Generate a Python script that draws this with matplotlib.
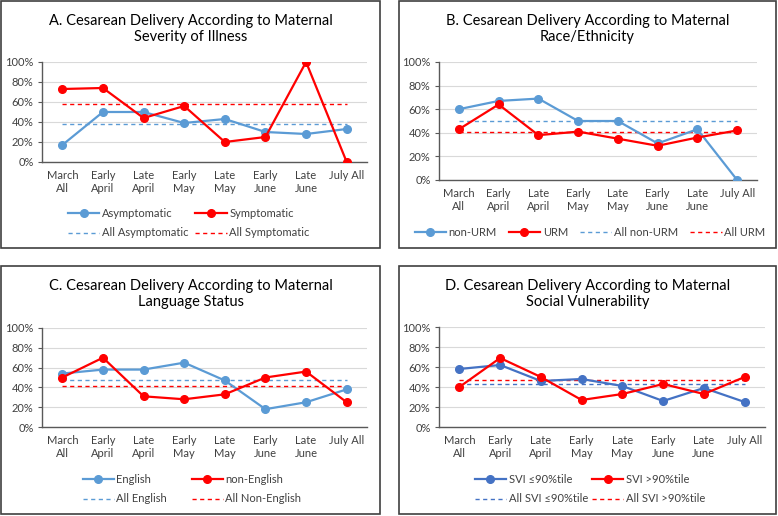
import matplotlib
matplotlib.use("Agg")
import matplotlib.pyplot as plt
from matplotlib.patches import Rectangle
from matplotlib.lines import Line2D
from matplotlib.ticker import PercentFormatter

plt.rcParams['font.family'] = ['Lato', 'DejaVu Sans']

categories = ["March\nAll", "Early\nApril", "Late\nApril", "Early\nMay",
              "Late\nMay", "Early\nJune", "Late\nJune", "July All"]

# Panel A
a_title = "A. Cesarean Delivery According to Maternal\nSeverity of Illness"
a_names = ["Asymptomatic", "Symptomatic", "All Asymptomatic", "All Symptomatic"]
a_s1 = [17, 50, 50, 39, 43, 30, 28, 33]
a_s2 = [73, 74, 44, 56, 20, 25, 100, 0]
a_avg = [38, 58]

# Panel B
b_title = "B. Cesarean Delivery According to Maternal\nRace/Ethnicity"
b_names = ["non-URM", "URM", "All non-URM", "All URM"]
b_s1 = [60, 67, 69, 50, 50, 31, 43, 0]
b_s2 = [43, 64, 38, 41, 35, 29, 36, 42]
b_avg = [50, 41]

# Panel C
c_title = "C. Cesarean Delivery According to Maternal\nLanguage Status"
c_names = ["English", "non-English", "All English", "All Non-English"]
c_s1 = [54, 58, 58, 65, 47, 18, 25, 38]
c_s2 = [50, 70, 31, 28, 33, 50, 56, 25]
c_avg = [47, 41]

# Panel D
d_title = "D. Cesarean Delivery According to Maternal\nSocial Vulnerability"
d_names = ["SVI ≤90%tile", "SVI >90%tile", "All SVI ≤90%tile", "All SVI >90%tile"]
d_s1 = [58, 62, 46, 48, 41, 26, 39, 25]
d_s2 = [40, 69, 50, 27, 33, 43, 33, 50]
d_avg = [43, 47]

W, H = 778, 516
fig = plt.figure(figsize=(W / 100, H / 100), dpi=100)
fig.patch.set_facecolor("white")

RED = "#FF0000"
BLUE = "#5B9BD5"
DBLUE = "#4472C4"
TXT = "#404040"
DASH = (0, (3, 2.5))


def fx(x):
    return x / W


def fy(y):
    return 1 - y / H


panels = [
    dict(box=(1, 1, 380, 248), ax=(42, 62, 367, 162), ty=29, leg=(2, 223, 189, 0.6),
         title=a_title, names=a_names, s1=a_s1, s2=a_s2, avg=a_avg, blue=BLUE),
    dict(box=(399, 1, 776, 248), ax=(439, 62, 757, 180), ty=29, leg=(4, 232, 590, 1.1),
         title=b_title, names=b_names, s1=b_s1, s2=b_s2, avg=b_avg, blue=BLUE),
    dict(box=(1, 266, 380, 514), ax=(42, 328, 367, 427), ty=294, leg=(2, 489, 192, 2.2),
         title=c_title, names=c_names, s1=c_s1, s2=c_s2, avg=c_avg, blue=BLUE),
    dict(box=(399, 266, 776, 514), ax=(439, 327, 765, 427), ty=294, leg=(2, 489, 590, 0.4),
         title=d_title, names=d_names, s1=d_s1, s2=d_s2, avg=d_avg, blue=DBLUE),
]

x = list(range(len(categories)))

for p in panels:
    x0, y0, x1, y1 = p["box"]
    fig.patches.append(Rectangle((fx(x0), fy(y1)), fx(x1 - x0), (y1 - y0) / H,
                                 transform=fig.transFigure, fill=False,
                                 edgecolor="#404040", linewidth=1.2))
    l, t, r, b = p["ax"]
    ax = fig.add_axes([fx(l), fy(b), fx(r - l), (b - t) / H])
    ax.set_xlim(-0.5, len(categories) - 0.5)
    ax.set_ylim(0, 100)
    ax.set_yticks([0, 20, 40, 60, 80, 100])
    ax.yaxis.set_major_formatter(PercentFormatter(decimals=0))
    ax.set_xticks(x)
    ax.set_xticklabels(categories)
    ax.tick_params(axis="both", labelsize=8, colors=TXT, length=0, pad=6)
    ax.tick_params(axis="y", length=3, color="#595959", pad=3)
    ax.grid(axis="y", color="#D9D9D9", linewidth=0.8)
    ax.set_axisbelow(True)
    for s in ["top", "right"]:
        ax.spines[s].set_visible(False)
    for s in ["left", "bottom"]:
        ax.spines[s].set_color("#595959")
        ax.spines[s].set_linewidth(1.0)

    ax.plot([x[0], x[-1]], [p["avg"][0]] * 2, color=p["blue"], ls=DASH, lw=1.0, zorder=2)
    ax.plot([x[0], x[-1]], [p["avg"][1]] * 2, color=RED, ls=DASH, lw=1.0, zorder=2)
    ax.plot(x, p["s1"], color=p["blue"], marker="o", ms=5.5, lw=1.6, zorder=3)
    ax.plot(x, p["s2"], color=RED, marker="o", ms=5.5, lw=1.6, zorder=4)

    fig.text(fx((x0 + x1) / 2), fy(p["ty"]), p["title"], ha="center", va="center",
             fontsize=10.5, color="#000000", linespacing=1.25)

    h = [
        Line2D([], [], color=p["blue"], marker="o", ms=5.5, lw=1.6),
        Line2D([], [], color=RED, marker="o", ms=5.5, lw=1.6),
        Line2D([], [], color=p["blue"], ls=DASH, lw=1.0),
        Line2D([], [], color=RED, ls=DASH, lw=1.0),
    ]
    names = p["names"]
    ncol, ly, lx, cs = p["leg"]
    if ncol == 2:
        order = [0, 2, 1, 3]
    else:
        order = [0, 1, 2, 3]
    fig.legend([h[i] for i in order], [names[i] for i in order], ncol=ncol, loc="center",
               bbox_to_anchor=(fx(lx), fy(ly)), frameon=False,
               fontsize=8, labelcolor=TXT, handlelength=2.8, handletextpad=0.25,
               columnspacing=cs, labelspacing=0.8)

fig.savefig("out.png", dpi=100, facecolor="white")
